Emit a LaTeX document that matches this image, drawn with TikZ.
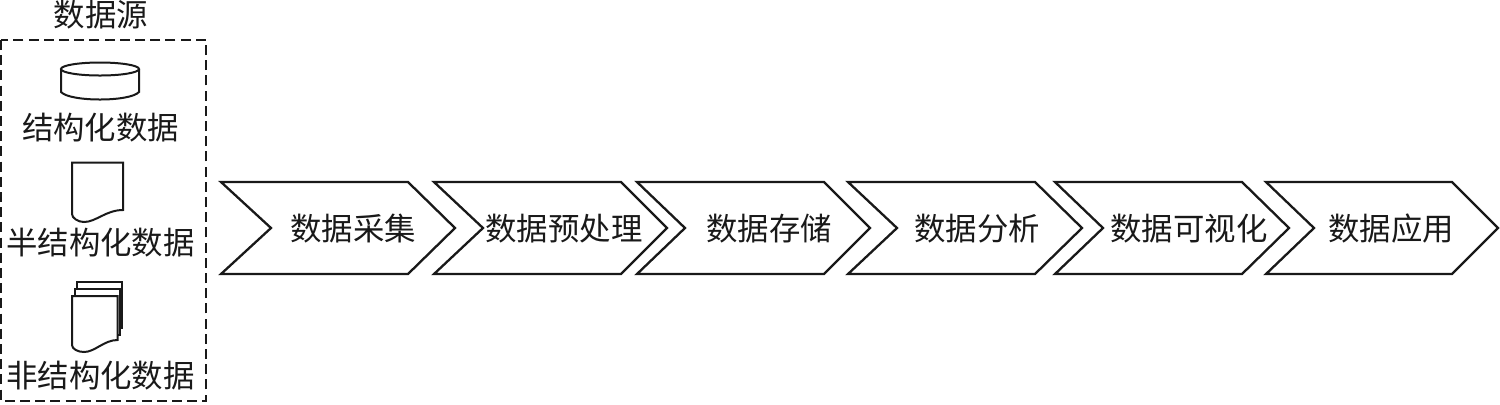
\documentclass[tikz,border=0pt]{standalone}
\usepackage{fontspec}
\setmainfont{Noto Sans CJK SC}
\tikzset{
  x=0.5pt,y=-0.5pt,
  chev/.style={draw=black!90,line width=1.15pt,fill=white,line join=miter},
  icon/.style={draw=black!90,line width=1pt,fill=white,line join=miter},
  lbl/.style={inner sep=0pt,font=\fontsize{15.7}{16}\selectfont,text=black!90},
  srcbox/.style={draw=black!90,line width=1.05pt,dash pattern=on 5pt off 2.6pt}
}
\begin{document}
\begin{tikzpicture}
\useasboundingbox (0,0) rectangle (1500,404);
\draw[srcbox] (1,40) rectangle (206,401);
\node[lbl] (title) at (101,15) {数据源};
% cylinder
\draw[icon] (61,69) -- (61,92) .. controls (70,102) and (130,102) .. (139,92) -- (139,69);
\draw[icon] (100,69) ellipse [x radius=39,y radius=6.5];
\node[lbl] (s1) at (100.5,128) {结构化数据};
% document
\draw[icon] (72,162.5) -- (123,162.5) -- (123,210) .. controls (106,210) and (96,222) .. (84,222) .. controls (78,222) and (72,218) .. (72,214) -- cycle;
\node[lbl] (s2) at (100.5,243) {半结构化数据};
% stacked documents
\draw[icon] (77,281.5) -- (122,281.5) -- (122,328) -- (77,328) -- cycle;
\draw[icon] (75,288.5) -- (120,288.5) -- (120,335) -- (75,335) -- cycle;
\draw[icon] (72,296) -- (117.5,296) -- (117.5,340) .. controls (104,340) and (95,352) .. (84,352) .. controls (78,352) and (72,349) .. (72,345) -- cycle;
\node[lbl] (s3) at (100.5,376) {非结构化数据};
% chevrons
\draw[chev] (221,182) -- (408,182) -- (455,228) -- (408,274) -- (221,274) -- (271,228) -- cycle;
\node[lbl] (c1) at (353,229) {数据采集};
\draw[chev] (434,182) -- (621,182) -- (667,228) -- (621,274) -- (434,274) -- (483,228) -- cycle;
\node[lbl] (c2) at (564,229) {数据预处理};
\draw[chev] (637,182) -- (824,182) -- (870,228) -- (824,274) -- (637,274) -- (685,228) -- cycle;
\node[lbl] (c3) at (769,229) {数据存储};
\draw[chev] (848,182) -- (1035,182) -- (1082,228) -- (1035,274) -- (848,274) -- (897,228) -- cycle;
\node[lbl] (c4) at (977,229) {数据分析};
\draw[chev] (1055,182) -- (1242,182) -- (1289,228) -- (1242,274) -- (1055,274) -- (1103,228) -- cycle;
\node[lbl] (c5) at (1189,229) {数据可视化};
\draw[chev] (1266,182) -- (1452,182) -- (1498,228) -- (1452,274) -- (1266,274) -- (1314,228) -- cycle;
\node[lbl] (c6) at (1391,229) {数据应用};
\end{tikzpicture}
\end{document}
